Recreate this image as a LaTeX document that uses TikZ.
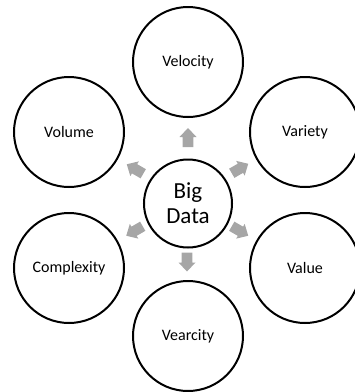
\documentclass[tikz,border=0pt]{standalone}
\usepackage{fontspec}
\setmainfont{Carlito}
\definecolor{arrowgray}{HTML}{A6A6A6}
\tikzset{
  outer/.style={circle, draw=black, line width=2pt, minimum size=110pt, inner sep=0pt, font=\fontsize{16}{18}\selectfont},
  hub/.style={circle, draw=black, line width=2pt, minimum size=88pt, inner sep=0pt, align=center, font=\fontsize{23}{25}\selectfont},
  barrow/.pic={\fill[arrowgray] (-9.5,-5.3) -- (0.5,-5.3) -- (0.5,-8.5) -- (9.5,0) -- (0.5,8.5) -- (0.5,5.3) -- (-9.5,5.3) -- cycle;}
}
\begin{document}
\begin{tikzpicture}[x=1pt,y=-1pt]
\useasboundingbox (0,0) rectangle (355,392);
\node[hub] (big) at (188,203.5) {Big\\Data};
\node[outer] (vel) at (188,62) {Velocity};
\node[outer] (vol) at (69,132) {Volume};
\node[outer] (var) at (305,132) {Variety};
\node[outer] (com) at (69,268) {Complexity};
\node[outer] (val) at (305,268) {Value};
\node[outer] (vea) at (188,336) {Vearcity};
\pic[rotate=90] at (188,137.5) {barrow};
\pic[rotate=-90] at (187,262) {barrow};
\pic[rotate=150] at (135,169) {barrow};
\pic[rotate=30] at (240,168.5) {barrow};
\pic[rotate=210] at (134.5,231) {barrow};
\pic[rotate=-30] at (240,231) {barrow};
\end{tikzpicture}
\end{document}
